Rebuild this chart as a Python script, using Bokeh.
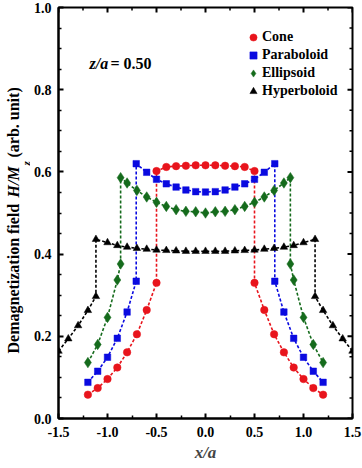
import math
from bokeh.plotting import figure
from bokeh.layouts import row
from bokeh.models import (Range1d, FixedTicker, Label, Legend, LegendItem)
from bokeh.core.properties import value
from bokeh.embed import file_html
from bokeh.resources import INLINE

# ---------------- data ----------------
cone_x = [-1.2, -1.1, -1.0, -0.9, -0.8, -0.7, -0.6, -0.5,
          -0.5, -0.4, -0.3, -0.2, -0.1, 0.0, 0.1, 0.2, 0.3, 0.4, 0.5,
          0.5, 0.6, 0.7, 0.8, 0.9, 1.0, 1.1, 1.2]
cone_y = [0.058, 0.074, 0.096, 0.124, 0.161, 0.205, 0.264, 0.330,
          0.602, 0.612, 0.614, 0.615, 0.616, 0.616, 0.616, 0.615, 0.614, 0.612, 0.602,
          0.330, 0.264, 0.205, 0.161, 0.124, 0.096, 0.074, 0.058]

para_x = [-1.2, -1.1, -1.0, -0.9, -0.8, -0.707,
          -0.707, -0.6, -0.5, -0.4, -0.3, -0.2, -0.1, 0.0, 0.1, 0.2, 0.3, 0.4, 0.5, 0.6, 0.707,
          0.707, 0.8, 0.9, 1.0, 1.1, 1.2]
para_y = [0.088, 0.115, 0.149, 0.195, 0.259, 0.334,
          0.620, 0.599, 0.582, 0.571, 0.563, 0.556, 0.552, 0.551, 0.552, 0.556, 0.563, 0.571, 0.582, 0.599, 0.620,
          0.334, 0.259, 0.195, 0.149, 0.115, 0.088]

ell_x = [-1.2, -1.1, -1.0, -0.9, -0.866,
         -0.866, -0.8, -0.7, -0.6, -0.5, -0.4, -0.3, -0.2, -0.1, 0.0, 0.1, 0.2, 0.3, 0.4, 0.5, 0.6, 0.7, 0.8, 0.866,
         0.866, 0.9, 1.0, 1.1, 1.2]
ell_y = [0.136, 0.180, 0.246, 0.337, 0.376,
         0.586, 0.573, 0.555, 0.539, 0.526, 0.516, 0.508, 0.504, 0.503, 0.500, 0.503, 0.504, 0.508, 0.516, 0.526, 0.539, 0.555, 0.573, 0.586,
         0.376, 0.337, 0.246, 0.180, 0.136]

hyp_x = [-1.5, -1.4, -1.3, -1.2, -1.118,
         -1.118, -1.0, -0.9, -0.8, -0.7, -0.6, -0.5, -0.4, -0.3, -0.2, -0.1, 0.0,
         0.1, 0.2, 0.3, 0.4, 0.5, 0.6, 0.7, 0.8, 0.9, 1.0, 1.118,
         1.118, 1.2, 1.3, 1.4, 1.5]
hyp_y = [0.164, 0.194, 0.226, 0.263, 0.297,
         0.436, 0.428, 0.421, 0.417, 0.414, 0.412, 0.410, 0.409, 0.408, 0.407, 0.407, 0.407,
         0.407, 0.407, 0.408, 0.409, 0.410, 0.412, 0.414, 0.417, 0.421, 0.428, 0.436,
         0.297, 0.263, 0.226, 0.194, 0.164]

series_names = ["Cone", "Paraboloid", "Ellipsoid", "Hyperboloid"]

x_ticks = [-1.5, -1.0, -0.5, 0.0, 0.5, 1.0, 1.5]
x_tick_labels = ["-1.5", "-1.0", "-0.5", "0.0", "0.5", "1.0", "1.5"]
x_minor = [-1.25, -0.75, -0.25, 0.25, 0.75, 1.25]
y_ticks = [0.0, 0.2, 0.4, 0.6, 0.8, 1.0]
y_tick_labels = ["0.0", "0.2", "0.4", "0.6", "0.8", "1.0"]
y_minor = [round(0.05 * i, 2) for i in range(21) if i % 4 != 0]

# y-axis title pieces (text, style, size)
ylab_texts = ["Demagnetization field", "H/M", "z", "(arb. unit)"]
ylab_styles = ["bold", "bold italic", "bold italic", "bold"]
ylab_sizes = ["16px", "16px", "11px", "16px"]

FONT = "Liberation Serif"
LAB_W = 30
H = 468
FRAME_TOP, FRAME_BOTTOM = 7, 418   # frame of the row is shared by both plots

# ---------------- y-label strip ----------------
lab = figure(width=LAB_W, height=H, output_backend="svg", toolbar_location=None,
             x_range=Range1d(0, LAB_W), y_range=Range1d(H - FRAME_BOTTOM, H - FRAME_TOP),
             x_axis_type=None, y_axis_type=None,
             min_border_left=0, min_border_right=0, min_border_top=FRAME_TOP,
             min_border_bottom=H - FRAME_BOTTOM)
lab.xgrid.visible = False
lab.ygrid.visible = False
lab.outline_line_color = None
lab.background_fill_color = "white"
lab.border_fill_color = "white"
# screen positions (x from left, y from top) of each piece
lab_pos = [(12.5, 353), (12.5, 197), (25, 165), (12.5, 157)]
for txt, st, fs, (sx, sy) in zip(ylab_texts, ylab_styles, ylab_sizes, lab_pos):
    lab.text(x=[sx], y=[H - sy], text=[txt], angle=math.pi / 2,
             text_font=value(FONT), text_font_style=value(st), text_font_size=value(fs),
             text_baseline=value("middle"), text_align=value("left"), text_color="black")

# ---------------- main figure ----------------
p = figure(width=362 - LAB_W, height=H, output_backend="svg", toolbar_location=None,
           x_range=Range1d(-1.5, 1.5), y_range=Range1d(0.0, 1.0),
           min_border_left=55 - LAB_W, min_border_right=10, min_border_top=FRAME_TOP,
           min_border_bottom=H - FRAME_BOTTOM)
p.xgrid.visible = False
p.ygrid.visible = False
p.outline_line_color = "black"
p.outline_line_width = 2
p.background_fill_color = "white"
p.border_fill_color = "white"

def style_axis(ax, ticks, minor, labels, standoff):
    ax.ticker = FixedTicker(ticks=ticks, minor_ticks=minor)
    ax.axis_line_width = 2
    ax.axis_line_color = "black"
    ax.major_tick_in = 5
    ax.major_tick_out = 0
    ax.minor_tick_in = 3
    ax.minor_tick_out = 0
    ax.major_tick_line_width = 2
    ax.minor_tick_line_width = 1.5
    ax.major_label_overrides = {t: l for t, l in zip(ticks, labels)}
    ax.major_label_text_font = FONT
    ax.major_label_text_font_style = "bold"
    ax.major_label_text_font_size = "14px"
    ax.major_label_text_color = "black"
    ax.major_label_standoff = standoff

style_axis(p.xaxis[0], x_ticks, x_minor, x_tick_labels, 8)
style_axis(p.yaxis[0], y_ticks, y_minor, y_tick_labels, 7)
p.xaxis[0].axis_label = "x/a"
p.xaxis[0].axis_label_text_font = FONT
p.xaxis[0].axis_label_text_font_style = "bold italic"
p.xaxis[0].axis_label_text_font_size = "17px"
p.xaxis[0].axis_label_standoff = 3

# mirrored inward ticks on the top and right frame edges (half of each dash is clipped)
x_top = p.y_range.end
y_right = p.x_range.end
p.scatter(x_ticks, [x_top] * len(x_ticks), marker="dash", angle=math.pi / 2, size=10,
          line_color="black", line_width=2)
p.scatter(x_minor, [x_top] * len(x_minor), marker="dash", angle=math.pi / 2, size=6,
          line_color="black", line_width=1.5)
p.scatter([y_right] * len(y_ticks), y_ticks, marker="dash", size=10,
          line_color="black", line_width=2)
p.scatter([y_right] * len(y_minor), y_minor, marker="dash", size=6,
          line_color="black", line_width=1.5)

colors = ["#e8141c", "#0a0ae0", "#156b1c", "#000000"]
markers = ["circle", "square", "diamond", "triangle"]
sizes = [7.5, 6.5, 10.5, 7.5]
xs = [cone_x, para_x, ell_x, hyp_x]
ys = [cone_y, para_y, ell_y, hyp_y]

items = []
for name, c, m, s, x, y in zip(series_names, colors, markers, sizes, xs, ys):
    p.line(x, y, line_color=c, line_width=1.6, line_dash="3 2")
    r = p.scatter(x, y, marker=m, size=s, fill_color=c, line_color=c, line_width=0.5)
    items.append(LegendItem(label=name, renderers=[r]))

legend = Legend(items=items, location=(186, 318), glyph_width=18, glyph_height=18,
                label_height=18, label_width=20, label_standoff=0, spacing=0, padding=0,
                margin=0, border_line_color=None, background_fill_alpha=0,
                label_text_font=FONT, label_text_font_style="bold",
                label_text_font_size="14px", label_text_color="black")
p.add_layout(legend)

# z/a = 0.50 annotation
p.add_layout(Label(x=31, y=355, x_units="screen", y_units="screen", text="z/a",
                   text_font=FONT, text_font_style="bold italic", text_font_size="16px",
                   text_baseline="middle", text_align="left", text_color="black"))
p.add_layout(Label(x=52, y=355, x_units="screen", y_units="screen", text="= 0.50",
                   text_font=FONT, text_font_style="bold", text_font_size="16px",
                   text_baseline="middle", text_align="left", text_color="black"))

layout = row(lab, p, spacing=0)
open("out.html", "w").write(file_html(layout, INLINE))
